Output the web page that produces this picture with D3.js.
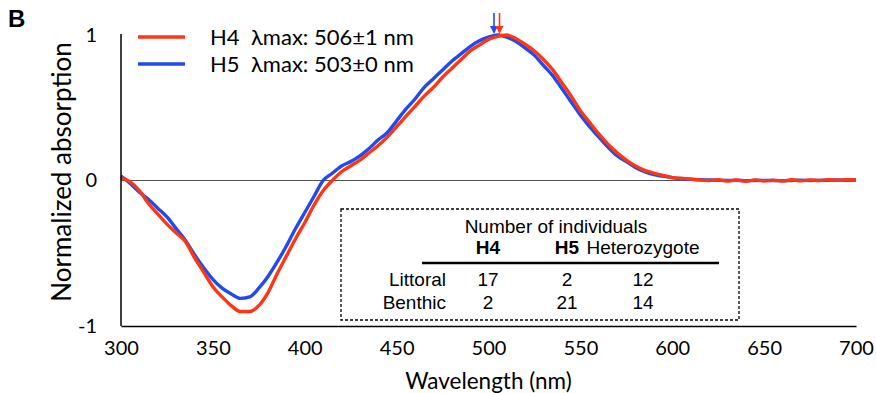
<!DOCTYPE html>
<html>
<head>
<meta charset="utf-8">
<script src="https://cdn.jsdelivr.net/npm/d3@7"></script>
<style>
  body { margin: 0; background: #fff; }
  svg { display: block; }
</style>
</head>
<body>
<div id="chart"></div>
<script>
// data
const wavelengths = d3.range(300, 701, 5)
const h5Values = [
  0.03, -0.02, -0.08, -0.13, -0.19, -0.25, -0.33, -0.41, -0.51, -0.6,
  -0.68, -0.74, -0.78, -0.81, -0.8, -0.74, -0.66, -0.56, -0.45, -0.33,
  -0.22, -0.11, 0.0, 0.05, 0.1, 0.13, 0.17, 0.22, 0.28, 0.33,
  0.41, 0.49, 0.56, 0.64, 0.7, 0.76, 0.82, 0.87, 0.92, 0.96,
  0.985, 1.0, 0.985, 0.955, 0.91, 0.86, 0.79, 0.72, 0.63, 0.54,
  0.45, 0.37, 0.3, 0.23, 0.17, 0.13, 0.09, 0.06, 0.04, 0.03,
  0.02, 0.012, 0.008, 0.005, 0.004, 0.002, 0.0, 0.002, -0.002, 0.0,
  0.001, 0.0, -0.002, 0.0, 0.002, 0.0, 0.001, 0.002, 0.003, 0.002, 0.003
]
const h4Values = [
  0.02, -0.01, -0.07, -0.16, -0.23, -0.3, -0.36, -0.42, -0.53, -0.63,
  -0.73, -0.8, -0.86, -0.9, -0.9, -0.86, -0.77, -0.64, -0.52, -0.4,
  -0.29, -0.17, -0.07, 0.0, 0.06, 0.1, 0.14, 0.19, 0.24, 0.3,
  0.37, 0.44, 0.51, 0.58, 0.64, 0.71, 0.77, 0.83, 0.89, 0.93,
  0.97, 0.99, 1.0, 0.975, 0.935, 0.89, 0.83, 0.76, 0.67, 0.58,
  0.48, 0.4, 0.32, 0.25, 0.19, 0.14, 0.1, 0.07, 0.05, 0.035,
  0.02, 0.015, 0.01, 0.004, 0.0, 0.005, -0.004, 0.003, -0.005, 0.004,
  -0.003, 0.002, -0.004, 0.005, -0.002, 0.004, 0.0, 0.006, 0.002, 0.005, 0.003
]
const series = [
  { name: 'H5', label: 'λmax: 503±0 nm', lambdaMax: 503, values: h5Values, color: '#1f4af2' },
  { name: 'H4', label: 'λmax: 506±1 nm', lambdaMax: 506, values: h4Values, color: '#ff3514' }
]
const xTicks = [300, 350, 400, 450, 500, 550, 600, 650, 700]
const yTicks = [-1, 0, 1]

const tableColumns = ['H4', 'H5', 'Heterozygote']
const tableRows = ['Littoral', 'Benthic']
const tableCounts = [[17, 2, 12], [2, 21, 14]]

const width = 876
const height = 393
const margin = { top: 35, right: 20, bottom: 67, left: 121 }
const labelFont = 'Lato, "Open Sans", sans-serif'
const tableFont = '"Liberation Sans", Arial, sans-serif'

const svg = d3.select('#chart')
  .append('svg')
  .attr('width', width)
  .attr('height', height)

const x = d3.scaleLinear().domain([300, 700]).range([margin.left, width - margin.right])
const y = d3.scaleLinear().domain([-1, 1]).range([height - margin.bottom, margin.top])

// zero line
svg.append('line')
  .attr('x1', x(300)).attr('x2', x(700))
  .attr('y1', y(0)).attr('y2', y(0))
  .attr('stroke', '#555').attr('stroke-width', 1)

const line = d3.line()
  .x((d, i) => x(wavelengths[i]))
  .y(d => y(d))
  .curve(d3.curveMonotoneX)

svg.selectAll('path.spectrum')
  .data(series)
  .enter()
  .append('path')
  .attr('class', 'spectrum')
  .attr('fill', 'none')
  .attr('stroke', d => d.color)
  .attr('stroke-width', 3.4)
  .attr('stroke-linejoin', 'round')
  .attr('d', d => line(d.values))

// axes
const xAxis = svg.append('g')
  .attr('transform', `translate(0,${y(-1)})`)
  .call(d3.axisBottom(x).tickValues(xTicks).tickSize(0).tickPadding(15).tickFormat(d => String(d)))
const yAxis = svg.append('g')
  .attr('transform', `translate(${margin.left},0)`)
  .call(d3.axisLeft(y).tickValues(yTicks).tickSize(0).tickPadding(24).tickFormat(d => String(d)))

;[xAxis, yAxis].forEach(g => {
  g.select('.domain').attr('stroke', '#000').attr('stroke-width', 1.5)
  g.selectAll('text').attr('font-family', labelFont).attr('font-size', 20).attr('fill', '#000')
})
yAxis.select('.domain').attr('d', `M0,${y(-1)}V${y(1) - 1}`)

svg.append('text')
  .attr('x', x(500)).attr('y', 389)
  .attr('text-anchor', 'middle')
  .attr('font-family', labelFont).attr('font-size', 22.5)
  .text('Wavelength (nm)')

svg.append('text')
  .attr('transform', 'translate(71,172) rotate(-90)')
  .attr('text-anchor', 'middle')
  .attr('font-family', labelFont).attr('font-size', 26)
  .text('Normalized absorption')

svg.append('text')
  .attr('x', 8).attr('y', 27)
  .attr('font-family', tableFont).attr('font-weight', 'bold').attr('font-size', 24)
  .text('B')

// legend (H4 first)
const legend = svg.append('g')
const legendItems = [series[1], series[0]]
legendItems.forEach((s, i) => {
  const ly = 37 + i * 27
  legend.append('line')
    .attr('x1', 138).attr('x2', 185).attr('y1', ly).attr('y2', ly)
    .attr('stroke', s.color).attr('stroke-width', 3.5)
  legend.append('text')
    .attr('x', 210).attr('y', ly + 8)
    .attr('font-family', labelFont).attr('font-size', 22)
    .text(s.name)
  legend.append('text')
    .attr('x', 251).attr('y', ly + 8)
    .attr('font-family', labelFont).attr('font-size', 22)
    .text(s.label)
})

// lambda max arrows
series.forEach(s => {
  const ax = x(s.lambdaMax)
  svg.append('line')
    .attr('x1', ax).attr('x2', ax).attr('y1', 13).attr('y2', 27)
    .attr('stroke', s.color).attr('stroke-width', 1.6)
  svg.append('path')
    .attr('d', `M${ax - 4},26L${ax + 4},26L${ax},34Z`)
    .attr('fill', s.color)
})

// table of individuals
const box = { x0: 341, x1: 739, y0: 209, y1: 320 }
svg.append('rect')
  .attr('x', box.x0).attr('y', box.y0)
  .attr('width', box.x1 - box.x0).attr('height', box.y1 - box.y0)
  .attr('fill', '#fff').attr('stroke', '#000')
  .attr('stroke-width', 1.3).attr('stroke-dasharray', '3,2')

const colX = [488, 567, 643]
const table = svg.append('g')
  .attr('font-family', tableFont).attr('font-size', 19).attr('fill', '#000')

table.append('text')
  .attr('x', 556).attr('y', 233).attr('text-anchor', 'middle')
  .text('Number of individuals')

table.selectAll('text.col')
  .data(tableColumns)
  .enter()
  .append('text')
  .attr('class', 'col')
  .attr('x', (d, i) => colX[i]).attr('y', 254)
  .attr('text-anchor', 'middle')
  .attr('font-weight', (d, i) => i < 2 ? 'bold' : 'normal')
  .text(d => d)

table.append('line')
  .attr('x1', 422).attr('x2', 719).attr('y1', 263).attr('y2', 263)
  .attr('stroke', '#000').attr('stroke-width', 2.5)

tableRows.forEach((r, ri) => {
  const ry = 286 + ri * 23
  table.append('text')
    .attr('x', 446).attr('y', ry).attr('text-anchor', 'end')
    .text(r)
  tableCounts[ri].forEach((c, ci) => {
    table.append('text')
      .attr('x', colX[ci]).attr('y', ry).attr('text-anchor', 'middle')
      .text(c)
  })
})
</script>
</body>
</html>
